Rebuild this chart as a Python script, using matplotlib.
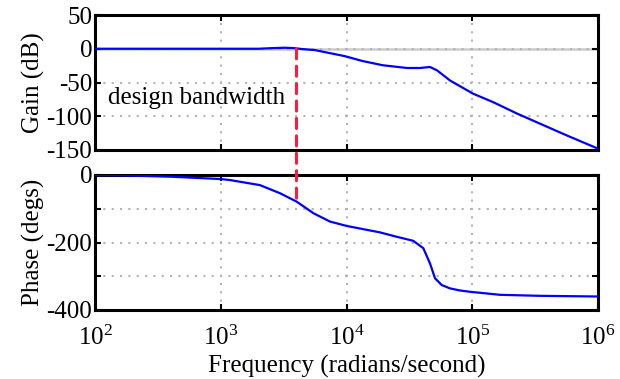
import numpy as np
import matplotlib.pyplot as plt
from matplotlib.patches import ConnectionPatch

plt.rcParams['font.family'] = ['Liberation Serif', 'DejaVu Serif']
plt.rcParams['font.size'] = 18
plt.rcParams['mathtext.fontset'] = 'stix'

# closed-loop response, read as log10(frequency) vs value
gain_logw = [2.0, 2.5, 3.0, 3.3, 3.42, 3.51, 3.58, 3.65, 3.749, 3.988, 4.123, 4.29,
             4.481, 4.584, 4.664, 4.72, 4.823, 5.006, 5.165, 5.356, 5.539, 5.753, 6.0]
gain_db = [0, 0, 0, 0, 1.0, 1.5, 1.0, -0.5, -2, -11, -18, -24.5,
           -28.5, -28.5, -27, -32, -47, -66.5, -79, -96, -111, -128.5, -148]

phase_logw = [2.0, 2.2, 2.6, 3.0, 3.074, 3.312, 3.471, 3.604, 3.736, 3.869, 4.002,
              4.266, 4.399, 4.531, 4.611, 4.664, 4.704, 4.757, 4.823, 4.9, 4.982,
              5.221, 5.539, 6.0]
phase_deg = [0, -1, -5, -12, -15, -30, -54, -79, -113, -138, -151,
             -170, -183, -195, -217, -262, -306, -326, -336, -342, -346,
             -355, -358, -360]

w_bw = 4000  # design bandwidth, rad/s
phase_bw = np.interp(np.log10(w_bw), phase_logw, phase_deg)

fig = plt.figure(figsize=(6.2, 3.79), dpi=100)
ax1 = fig.add_axes([95/620, 1-150/379, 503/620, 135/379])
ax2 = fig.add_axes([95/620, 1-310/379, 503/620, 135/379])

ax1.axhline(0, color='#cccccc', lw=1.8, zorder=1)
ax1.plot(10**np.array(gain_logw), gain_db, color='#0000ff', lw=1.6, zorder=3)
ax2.plot(10**np.array(phase_logw), phase_deg, color='#0000ff', lw=1.6, zorder=3)

for ax in (ax1, ax2):
    ax.set_xscale('log')
    ax.set_xlim(1e2, 1e6)
    ax.xaxis.set_minor_locator(plt.NullLocator())
    ax.grid(True, which='major', color='#b4b4b4', ls=(0, (1, 3)), lw=1.5)
    ax.tick_params(direction='in', top=True, right=True, length=4, width=1.5,
                   labelsize=18)
    ax.tick_params(axis='y', pad=2)
    for s in ax.spines.values():
        s.set_linewidth(2.2)

ax1.set_ylim(-150, 50)
ax1.set_yticks([50, 0, -50, -100, -150])
ax1.set_yticklabels(['50', '0', '-50', '-100', '-150'])
ax1.tick_params(labelbottom=False)
ax1.set_ylabel('Gain (dB)', labelpad=1)
ax1.text(10**2.81, -73, 'design bandwidth', ha='center', va='center', fontsize=18)

ax2.set_ylim(-400, 0)
ax2.set_yticks([0, -100, -200, -300, -400])
ax2.set_yticklabels(['0', '', '-200', '', '-400'])
ax2.set_xticks([1e2, 1e3, 1e4, 1e5, 1e6])
ax2.tick_params(axis='x', pad=11)
ax2.set_ylabel('Phase (degs)', labelpad=1)
ax2.set_xlabel('Frequency (radians/second)', labelpad=4)

con = ConnectionPatch(xyA=(w_bw, 0), coordsA=ax1.transData,
                      xyB=(w_bw, phase_bw), coordsB=ax2.transData,
                      color='#ff1a3c', lw=2.2, ls=(0, (3.3, 2.4)), zorder=5)
fig.add_artist(con)

fig.savefig('out.png', dpi=100)
